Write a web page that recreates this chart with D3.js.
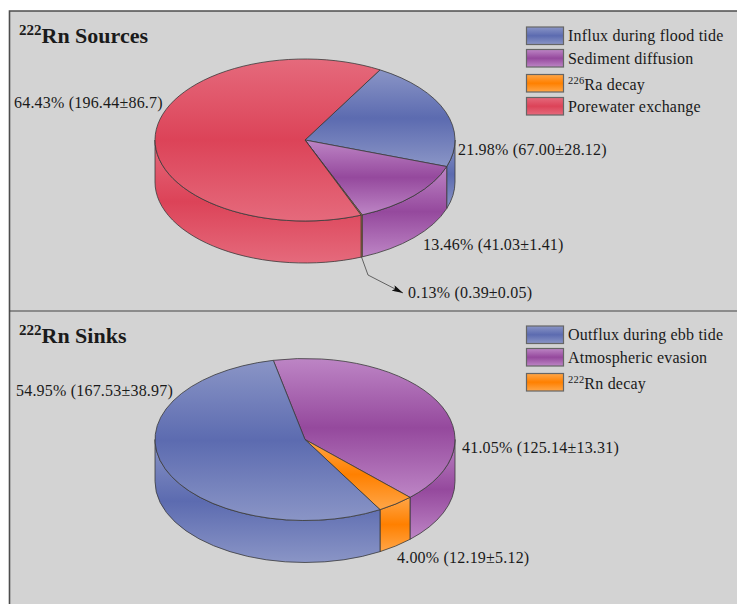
<!DOCTYPE html>
<html>
<head>
<meta charset="utf-8">
<script src="https://cdn.jsdelivr.net/npm/d3@7"></script>
<style>
	html, body { margin: 0; padding: 0; background: #fff; }
	svg { display: block; }
	text { font-family: "Liberation Serif", "Times New Roman", serif; fill: #1a1a1a; }
</style>
</head>
<body>
<svg id="chart" width="737" height="604"></svg>
<script>
// percentages and fluxes for each budget, slices run clockwise
const sourceNames = ["Influx during flood tide", "Sediment diffusion", "^226 Ra decay", "Porewater exchange"];
const sourcePercents = [21.98, 13.46, 0.13, 64.43];
const sourceFluxes = ["67.00±28.12", "41.03±1.41", "0.39±0.05", "196.44±86.7"];
const sourceColors = ["blue", "purple", "orange", "red"];

const sinkNames = ["Atmospheric evasion", "^222 Rn decay", "Outflux during ebb tide"];
const sinkPercents = [41.05, 4.00, 54.95];
const sinkFluxes = ["125.14±13.31", "12.19±5.12", "167.53±38.97"];
const sinkColors = ["purple", "orange", "blue"];
const sinkLegendOrder = [2, 0, 1];

// edge and middle colour of the banded fills
const shades = {
	blue: ["#8a95c6", "#5c6bb0"],
	purple: ["#bd85c5", "#95499d"],
	orange: ["#ffa648", "#ff8000"],
	red: ["#e56a7c", "#dc4358"]
};

const svg = d3.select("#chart");
const defs = svg.append("defs");

Object.keys(shades).forEach((key) => {
	const grad = defs.append("linearGradient")
		.attr("id", "band-" + key)
		.attr("x1", 0).attr("y1", 0).attr("x2", 0).attr("y2", 1);
	grad.append("stop").attr("offset", "0%").attr("stop-color", shades[key][0]);
	grad.append("stop").attr("offset", "50%").attr("stop-color", shades[key][1]);
	grad.append("stop").attr("offset", "100%").attr("stop-color", shades[key][0]);
});

defs.append("marker")
	.attr("id", "arrow")
	.attr("viewBox", "0 0 11 6")
	.attr("refX", 11).attr("refY", 3)
	.attr("markerWidth", 11).attr("markerHeight", 6)
	.attr("markerUnits", "userSpaceOnUse")
	.attr("orient", "auto")
	.append("path")
	.attr("d", "M0,0L11,3L0,6L2,3Z")
	.attr("fill", "#111");

// panel background and frame
svg.append("rect").attr("x", 9.5).attr("y", 11).attr("width", 728).attr("height", 593).attr("fill", "#d3d3d3");
svg.append("path")
	.attr("d", "M737,11H9.5V604")
	.attr("fill", "none").attr("stroke", "#4d4d4d").attr("stroke-width", 1.6);
svg.append("line")
	.attr("x1", 9.5).attr("x2", 737).attr("y1", 311).attr("y2", 311)
	.attr("stroke", "#444").attr("stroke-width", 1.1);

const rx = 150, ry = 81, depth = 42;
const pointAt = (cx, cy, a, dy) => [cx + rx * Math.sin(a), cy - ry * Math.cos(a) + (dy || 0)];

// wall of one slice, only the part that faces the viewer
function wallPath(cx, cy, a0, a1) {
	const from = Math.max(a0, Math.PI / 2);
	const to = Math.min(a1, 3 * Math.PI / 2);
	if (to <= from) return null;
	const big = to - from > Math.PI ? 1 : 0;
	const p0 = pointAt(cx, cy, from), p1 = pointAt(cx, cy, to);
	const q0 = pointAt(cx, cy, from, depth), q1 = pointAt(cx, cy, to, depth);
	return `M${p0}A${rx},${ry} 0 ${big} 1 ${p1}L${q1}A${rx},${ry} 0 ${big} 0 ${q0}Z`;
}

function drawPie(cx, cy, percents, colors, startDeg) {
	const start = startDeg * Math.PI / 180;
	const pie = d3.pie().sort(null).startAngle(start).endAngle(start + 2 * Math.PI);
	const slices = pie(percents);
	const arc = d3.arc().innerRadius(0).outerRadius(rx);
	const g = svg.append("g");

	slices.forEach((s, i) => {
		// slices past 360 degrees wrap round to the back and front again
		[0, -2 * Math.PI].forEach((shift) => {
			const d = wallPath(cx, cy, s.startAngle + shift, s.endAngle + shift);
			if (d) {
				g.append("path")
					.attr("d", d)
					.attr("fill", "url(#band-" + colors[i] + ")")
					.attr("stroke", "#3a3a3a").attr("stroke-width", 0.8);
			}
		});
	});

	g.selectAll("path.top")
		.data(slices)
		.enter()
		.append("path")
		.attr("class", "top")
		.attr("d", arc)
		.attr("transform", `translate(${cx},${cy}) scale(1,${ry / rx})`)
		.attr("vector-effect", "non-scaling-stroke")
		.attr("fill", (d, i) => "url(#band-" + colors[i] + ")")
		.attr("stroke", "#3a3a3a").attr("stroke-width", 0.8);
}

// plain text, with a leading "^nnn " written as a superscript
function richText(x, y, str, size, supSize, bold, spacing) {
	const t = svg.append("text")
		.attr("x", x).attr("y", y)
		.attr("font-size", size)
		.attr("letter-spacing", spacing || 0)
		.attr("font-weight", bold ? "bold" : "normal");
	const m = str.match(/^\^(\d+) (.*)$/);
	if (m) {
		const shift = Math.round(size * 0.36);
		t.append("tspan").attr("font-size", supSize).attr("dy", -shift).text(m[1]);
		t.append("tspan").attr("dy", shift).text(m[2]);
	} else {
		t.text(str);
	}
}

function drawLegend(names, colors, rows, swatchX, textX) {
	names.forEach((name, i) => {
		svg.append("rect")
			.attr("x", swatchX).attr("y", rows[i])
			.attr("width", 37).attr("height", 17.5)
			.attr("fill", "url(#band-" + colors[i] + ")")
			.attr("stroke", "#666").attr("stroke-width", 1.2);
		richText(textX, rows[i] + (name[0] === "^" ? 15 : 14), name, 16, 10.5, false, 0.2);
	});
}

function sliceLabel(x, y, percent, flux) {
	svg.append("text")
		.attr("x", x).attr("y", y)
		.attr("font-size", 16)
		.attr("letter-spacing", 0.2)
		.text(percent.toFixed(2) + "% (" + flux + ")");
}

drawPie(305, 140, sourcePercents, sourceColors, 30);
drawPie(305, 439.5, sinkPercents, sinkColors, -12.2);

richText(19, 43, "^222 Rn Sources", 22, 15, true);
richText(19, 343, "^222 Rn Sinks", 22, 15, true);

drawLegend(sourceNames, sourceColors, [27, 49.5, 74.5, 97.5], 526.5, 568);
drawLegend(sinkLegendOrder.map((i) => sinkNames[i]), sinkLegendOrder.map((i) => sinkColors[i]), [326, 348.5, 373.5], 526.5, 568);

sliceLabel(458, 155, sourcePercents[0], sourceFluxes[0]);
sliceLabel(423, 250, sourcePercents[1], sourceFluxes[1]);
sliceLabel(408, 298, sourcePercents[2], sourceFluxes[2]);
sliceLabel(14, 108, sourcePercents[3], sourceFluxes[3]);

sliceLabel(462, 453, sinkPercents[0], sinkFluxes[0]);
sliceLabel(397, 563, sinkPercents[1], sinkFluxes[1]);
sliceLabel(16, 396, sinkPercents[2], sinkFluxes[2]);

// leader for the thin radium slice
svg.append("path")
	.attr("d", "M361.5,257L368,275L403,293")
	.attr("fill", "none")
	.attr("stroke", "#444").attr("stroke-width", 0.8)
	.attr("marker-end", "url(#arrow)");
</script>
</body>
</html>
